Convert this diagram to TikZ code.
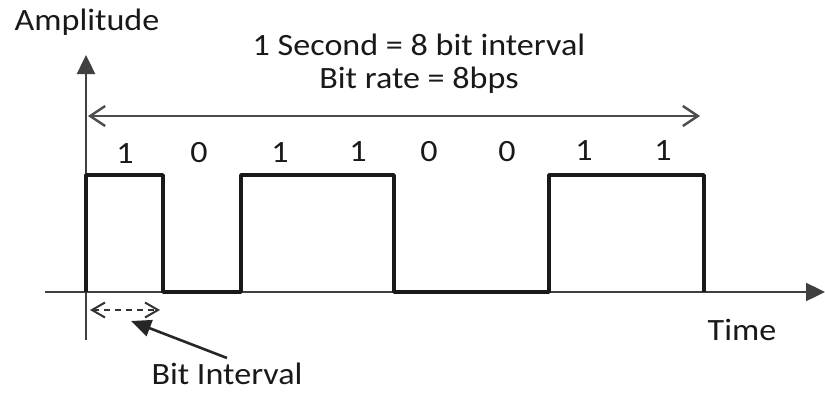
\documentclass[tikz,border=0pt]{standalone}
\usepackage{fontspec}
\setmainfont{Carlito}
\usetikzlibrary{arrows.meta}
\begin{document}
\begin{tikzpicture}[x=1pt,y=-1pt,
  lbl/.style={inner sep=0pt, xscale=1.1, font=\fontsize{31}{34}\selectfont, text=black!90},
  axisline/.style={draw=black!75, line width=2.4pt},
  sig/.style={draw=black!90, line width=3.6pt, line join=round},
  tri/.style={-{Triangle[length=19pt,width=18pt]}},
  barb/.style={{Straight Barb[length=15pt,width=20pt,line width=2.4pt]}-{Straight Barb[length=15pt,width=20pt,line width=2.4pt]}}]
\useasboundingbox (0,0) rectangle (825,394);
% coordinates
\coordinate (ybot) at (86,340);
\coordinate (ytop) at (86,55);
\coordinate (xl) at (45,292);
\coordinate (xr) at (825,292);
\coordinate (dl) at (88,116);
\coordinate (dr) at (700,116);
\coordinate (bl) at (90,310);
\coordinate (br) at (160,310);
\coordinate (ptr) at (131,321);
% axes
\draw[axisline,tri] (ybot) -- (ytop);
\draw[axisline,tri] (xl) -- (xr);
% signal
\draw[sig] (86,292) -- (86,175) -- (163,175) -- (163,292) -- (241,292) -- (241,175) -- (394,175) -- (394,292)
  -- (549,292) -- (549,175) -- (704,175) -- (704,292);
% double arrow
\draw[draw=black!70, line width=2.4pt, barb] (dl) -- (dr);
% bit interval dashed
\draw[draw=black!80, line width=2pt, dash pattern=on 6pt off 5pt,
  {Straight Barb[length=13pt,width=15pt,line width=2pt]}-{Straight Barb[length=13pt,width=15pt,line width=2pt]}] (bl) -- (br);
% texts
\node[lbl] (amp) at (87,22) {Amplitude};
\node[lbl] (sec) at (419,45) {1 Second = 8 bit interval};
\node[lbl] (rate) at (419,80) {Bit rate = 8bps};
\node[lbl] (time) at (742,330) {Time};
\node[lbl] (bint) at (227,374) {Bit Interval};
\node[lbl] (b1) at (125,154) {1};
\node[lbl] (b2) at (199,153) {0};
\node[lbl] (b3) at (280,153) {1};
\node[lbl] (b4) at (358,152) {1};
\node[lbl] (b5) at (429,152) {0};
\node[lbl] (b6) at (507,152) {0};
\node[lbl] (b7) at (584,151) {1};
\node[lbl] (b8) at (663,151) {1};
% pointer
\coordinate (ps) at (227,358);
\draw[draw=black!85, line width=2.6pt, -{Triangle[length=20pt,width=17pt]}] (ps) -- (ptr);
\end{tikzpicture}
\end{document}
